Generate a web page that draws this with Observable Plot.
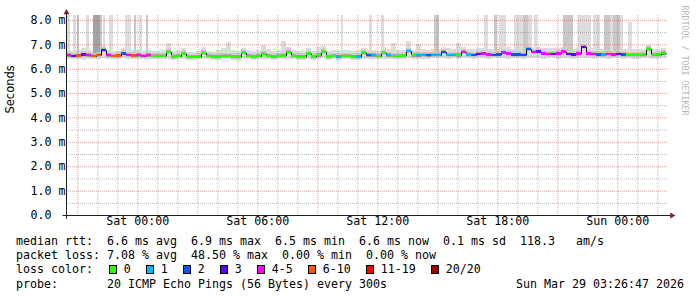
<!DOCTYPE html>
<html><head><meta charset="utf-8">
<script src="https://cdn.jsdelivr.net/npm/d3@7"></script>
<script src="https://cdn.jsdelivr.net/npm/@observablehq/plot@0.6"></script>
<style>
html,body{margin:0;padding:0;background:#fff;}
#wrap{position:relative;width:697px;height:297px;overflow:hidden;font-family:"DejaVu Sans Mono",monospace;}
#wrap svg{display:block;}
.lg{position:absolute;font-size:11.63px;line-height:14px;white-space:pre;color:#000;}
.box{position:absolute;box-sizing:border-box;width:8px;height:9px;border:1px solid #000;}
</style></head><body><div id="wrap"></div>
<script>
// time axis: hours relative to Sat 00:00, 15-minute bins
const startHour = -3.567;
const stepHours = 0.25;
const xDomain = [-3.567, 26.533];
const yDomain = [0, 8.2];

// median rtt per bin (ms)
const median = [
 6.55,6.53,6.54,6.58,6.55,6.52,6.57,6.76,6.55,6.53,
 6.54,6.62,6.56,6.54,6.55,6.53,6.55,6.53,6.52,6.53,
 6.68,6.50,6.52,6.62,6.48,6.48,6.50,6.65,6.52,6.50,
 6.50,6.52,6.52,6.50,6.50,6.66,6.52,6.50,6.52,6.60,
 6.52,6.50,6.52,6.54,6.68,6.52,6.50,6.50,6.62,6.50,
 6.55,6.70,6.50,6.52,6.50,6.52,6.52,6.50,6.50,6.66,
 6.55,6.55,6.52,6.65,6.55,6.52,6.52,6.54,6.72,6.55,
 6.55,6.56,6.55,6.56,6.56,6.68,6.56,6.56,6.55,6.68,
 6.58,6.57,6.60,6.62,6.58,6.57,6.58,6.66,6.62,6.58,
 6.58,6.57,6.80,6.68,6.70,6.62,6.60,6.60,6.62,6.70,
 6.60,6.58,6.62,6.90,6.62,6.60,6.58,6.58,6.60,6.58,
 6.60,6.58,6.57,6.56,6.56,6.58,6.80,6.57,6.58,6.63];

// loss class per bin (index into lossLabels)
const lossCode = [
 4,3,5,3,4,5,5,3,4,5,
 5,2,4,5,4,4,4,0,0,0,
 0,0,0,0,0,0,0,0,0,0,
 0,0,0,0,0,0,0,0,0,0,
 0,0,0,0,0,0,0,0,0,0,
 0,0,0,0,1,0,0,0,1,0,
 2,1,0,0,1,0,0,0,1,0,
 1,1,2,1,1,2,1,1,0,4,
 1,2,3,4,4,2,2,4,4,2,
 2,2,2,4,3,4,4,3,4,4,
 3,3,4,3,4,4,2,1,4,4,
 3,2,0,0,0,0,0,0,0,0];

// smoke envelope per bin (ms)
const smokeHigh = [
 6.75,6.72,6.75,6.85,6.75,6.72,6.80,6.95,6.75,6.72,
 6.72,6.85,6.85,6.75,6.75,6.72,6.75,6.72,6.72,6.75,
 7.05,6.72,6.75,6.85,6.70,6.70,6.72,6.90,6.72,6.70,
 6.75,6.85,7.10,6.75,6.72,6.85,6.75,6.72,6.75,6.95,
 6.80,6.72,6.75,7.12,6.90,6.75,6.72,6.72,6.85,6.72,
 6.90,6.93,6.72,6.75,6.72,6.75,6.75,6.72,6.75,6.85,
 6.78,6.75,6.72,6.88,6.80,7.05,6.75,6.78,7.15,6.78,
 7.00,6.80,6.78,6.80,6.80,6.90,6.85,6.80,7.05,6.90,
 6.80,6.82,6.85,6.85,6.82,6.80,6.82,6.90,6.90,6.82,
 6.82,6.85,7.00,6.90,6.90,6.85,6.85,6.85,6.85,6.90,
 6.85,6.82,6.85,7.25,6.85,6.85,6.82,6.82,6.85,6.82,
 6.85,6.82,6.80,6.80,6.80,6.82,6.95,6.80,6.80,6.85];
const smokeLow = [
 6.40,6.38,6.40,6.36,6.40,6.38,6.40,6.42,6.40,6.38,
 6.40,6.42,6.40,6.38,6.40,6.38,6.40,6.40,6.38,6.40,
 6.40,6.36,6.38,6.40,6.35,6.35,6.38,6.40,6.38,6.36,
 6.36,6.38,6.38,6.36,6.36,6.40,6.38,6.36,6.38,6.40,
 6.38,6.36,6.38,6.38,6.40,6.38,6.36,6.36,6.40,6.36,
 6.40,6.42,6.36,6.38,6.36,6.38,6.38,6.36,6.36,6.40,
 6.40,6.40,6.38,6.40,6.40,6.38,6.38,6.40,6.42,6.40,
 6.40,6.40,6.40,6.42,6.42,6.42,6.40,6.42,6.40,6.42,
 6.42,6.40,6.42,6.42,6.40,6.42,6.42,6.42,6.40,6.42,
 6.42,6.40,6.45,6.42,6.42,6.40,6.42,6.42,6.40,6.42,
 6.42,6.40,6.42,6.45,6.42,6.40,6.42,6.42,6.40,6.42,
 6.42,6.40,6.42,6.40,6.40,6.42,6.42,6.40,6.40,6.42];

// outlier pings (tall smoke spikes): start/end hour, top (ms), shade level
const spikeFrom  = [-3.515,-3.215,-3.04,-2.565,-2.215,-1.89,-1.715,-1.44,-0.615,-0.19,0.085,0.41,10.185,11.585,12.185,14.81,17.31,17.835,18.06,18.835,19.285,19.51,19.81,21.285,22.035,22.785,23.335,23.635,23.785,24.135,24.535];
const spikeTo    = [-3.39,-3.065,-2.915,-2.415,-1.89,-1.765,-1.64,-1.24,-0.315,-0.065,0.21,0.535,10.285,11.71,12.335,15.06,17.51,17.985,18.435,19.285,19.51,19.735,19.985,21.785,22.685,23.135,23.635,23.785,24.135,24.285,24.735];
const spikeTop   = [8.3,8.3,8.3,8.3,8.3,8.3,8.3,8.3,8.3,8.3,8.3,8.3,8.3,8.3,8.3,8.3,8.3,8.3,8.3,8.3,8.3,8.3,8.3,8.3,8.3,8.3,8.3,8.3,8.3,8.3,7.9];
const spikeShade = [1,1,2,1,3,2,1,1,1,2,1,2,1,1,1,2,1,2,1,1,2,1,1,2,1,1,2,1,2,1,1];

const lossLabels = ["0","1","2","3","4-5","6-10","11-19","20/20"];
const lossColors = ["#26ff00","#00b8ff","#0059ff","#5e00ff","#ff00ff","#ff5500","#ff0000","#a00000"];

const xTickHours  = [0,6,12,18,24];
const xTickLabels = ["Sat 00:00","Sat 06:00","Sat 12:00","Sat 18:00","Sun 00:00"];
const xMajorGrid  = [-3,0,3,6,9,12,15,18,21,24];
const xMinorGrid  = [-2,-1,1,2,4,5,7,8,10,11,13,14,16,17,19,20,22,23,25,26];
const yTickValues = [0,1,2,3,4,5,6,7,8];
const yTickLabels = ["0.0","1.0 m","2.0 m","3.0 m","4.0 m","5.0 m","6.0 m","7.0 m","8.0 m"];
const yMinorGrid  = [0.5,1.5,2.5,3.5,4.5,5.5,6.5,7.5];

const yTitle = "Seconds";
const watermark = "RRDTOOL / TOBI OETIKER";
const rttStats  = ["6.6 ms avg","6.9 ms max","6.5 ms min","6.6 ms now","0.1 ms sd","118.3   am/s"];
const lossStats = ["7.08 % avg","48.50 % max","0.00 % min","0.00 % now"];
const probeText = "20 ICMP Echo Pings (56 Bytes) every 300s";
const stamp = "Sun Mar 29 03:26:47 2026";

// ---- build ----
const bins = median.map((m, i) => ({
  t0: startHour + i * stepHours, t1: startHour + (i + 1) * stepHours,
  med: m, loss: lossCode[i], lo: smokeLow[i], hi: smokeHigh[i]
}));
const spikes = spikeFrom.map((f, i) => ({t0: f, t1: spikeTo[i], top: spikeTop[i], shade: spikeShade[i]}));
const linePts = bins.map(b => ({t: b.t0, v: b.med})).concat([{t: bins[bins.length-1].t1, v: bins[bins.length-1].med}]);
const shadeColors = ["#ffffff", "#dddddd", "#c8c8c8", "#a4a4a4"];
const arrowCol = "#801f1f", axisCol = "#202020";
const upArrow = {draw(c){ c.moveTo(0,-3.4); c.lineTo(3,1.8); c.lineTo(-3,1.8); c.closePath(); }};
const rightArrow = {draw(c){ c.moveTo(3.4,0); c.lineTo(-1.8,-3); c.lineTo(-1.8,3); c.closePath(); }};

const chart = Plot.plot({
  width: 697, height: 232,
  marginLeft: 66, marginRight: 29, marginTop: 15, marginBottom: 17,
  x: {type: "linear", domain: xDomain, axis: null},
  y: {type: "linear", domain: yDomain, axis: null},
  color: {type: "identity"},
  style: {fontFamily: "'DejaVu Sans Mono', monospace", fontSize: "11.63px", color: "#000", background: "#fff", overflow: "visible"},
  marks: [
    Plot.rect(bins, {x1: "t0", x2: "t1", y1: "lo", y2: "hi", fill: "#dddddd", shapeRendering: "crispEdges"}),
    Plot.rect(spikes, {x1: "t0", x2: "t1", y1: 6.6, y2: d => Math.min(d.top, yDomain[1]), fill: d => shadeColors[d.shade], shapeRendering: "crispEdges"}),
    Plot.rect(bins, {x1: "t0", x2: "t1", y1: d => d.med - 0.09, y2: d => d.med + 0.13, fill: "#cccccc", shapeRendering: "crispEdges"}),
    Plot.rect(bins, {x1: "t0", x2: "t1", y1: d => d.med - 0.05, y2: d => d.med + 0.075, fill: "#adadad", shapeRendering: "crispEdges"}),
    Plot.ruleY(yMinorGrid, {stroke: "rgba(143,143,143,0.6)", strokeDasharray: "1,1"}),
    Plot.ruleX(xMinorGrid, {stroke: "rgba(143,143,143,0.6)", strokeDasharray: "1,1"}),
    Plot.ruleY(yTickValues.filter(v => v > 0), {stroke: "rgba(222,79,79,0.55)", strokeDasharray: "1,1"}),
    Plot.ruleX(xMajorGrid, {stroke: "rgba(222,79,79,0.55)", strokeDasharray: "1,1"}),
    Plot.line(linePts, {x: "t", y: "v", curve: "step-after", stroke: "#111", strokeWidth: 1}),
    Plot.rect(bins, {x1: "t0", x2: "t1", y1: d => d.med - 0.045, y2: d => d.med + 0.045, fill: d => lossColors[d.loss], shapeRendering: "crispEdges"}),
    // axes
    Plot.ruleY([0], {x1: xDomain[0] - 0.17, x2: xDomain[1] + 0.12, stroke: axisCol}),
    Plot.ruleX([xDomain[0]], {y1: -0.16, y2: 8.3, stroke: axisCol}),
    Plot.dot([0], {x: xDomain[0], y: yDomain[1], dy: -3, symbol: upArrow, r: 3, fill: arrowCol, stroke: "none"}),
    Plot.dot([0], {x: xDomain[1], y: 0, dx: 3.5, symbol: rightArrow, r: 3, fill: arrowCol, stroke: "none"}),
    Plot.text(yTickValues, {y: d => d, frameAnchor: "left", text: (d, i) => yTickLabels[i], textAnchor: "start", dx: -36, fill: "#000"}),
    Plot.text(xTickHours, {x: d => d, frameAnchor: "bottom", text: (d, i) => xTickLabels[i], dy: 9.5, fill: "#000"}),
    Plot.text([yTitle], {frameAnchor: "left", text: d => d, rotate: -90, dx: -56, dy: -2, fontFamily: "'DejaVu Sans', sans-serif", fontSize: 11.5, fill: "#000"}),
    Plot.text([watermark], {frameAnchor: "top-right", text: d => d, rotate: 90, textAnchor: "start", dx: 19, dy: -10, fontSize: 8.3, fill: "#b8b8b8"})
  ]
});

const wrap = document.getElementById("wrap");
wrap.appendChild(chart);

function addText(left, top, text, right) {
  const d = document.createElement("div");
  d.className = "lg";
  d.style.top = top + "px";
  if (right !== undefined) d.style.right = right + "px"; else d.style.left = left + "px";
  d.textContent = text;
  wrap.appendChild(d);
  return d;
}
addText(16, 234, "median rtt:  " + rttStats.join("  "));
addText(16, 248, "packet loss: " + lossStats.join("  "));
addText(16, 262, "loss color:");
let bx = 108.7;
lossLabels.forEach((lab, i) => {
  const b = document.createElement("div");
  b.className = "box";
  b.style.left = bx + "px";
  b.style.top = "264.5px";
  b.style.background = lossColors[i];
  wrap.appendChild(b);
  addText(bx + 15, 262, lab);
  bx = bx + 15 + lab.length * 7 + 15;
});
addText(16, 277, "probe:       " + probeText);
addText(0, 277, stamp, 13);
</script></body></html>
